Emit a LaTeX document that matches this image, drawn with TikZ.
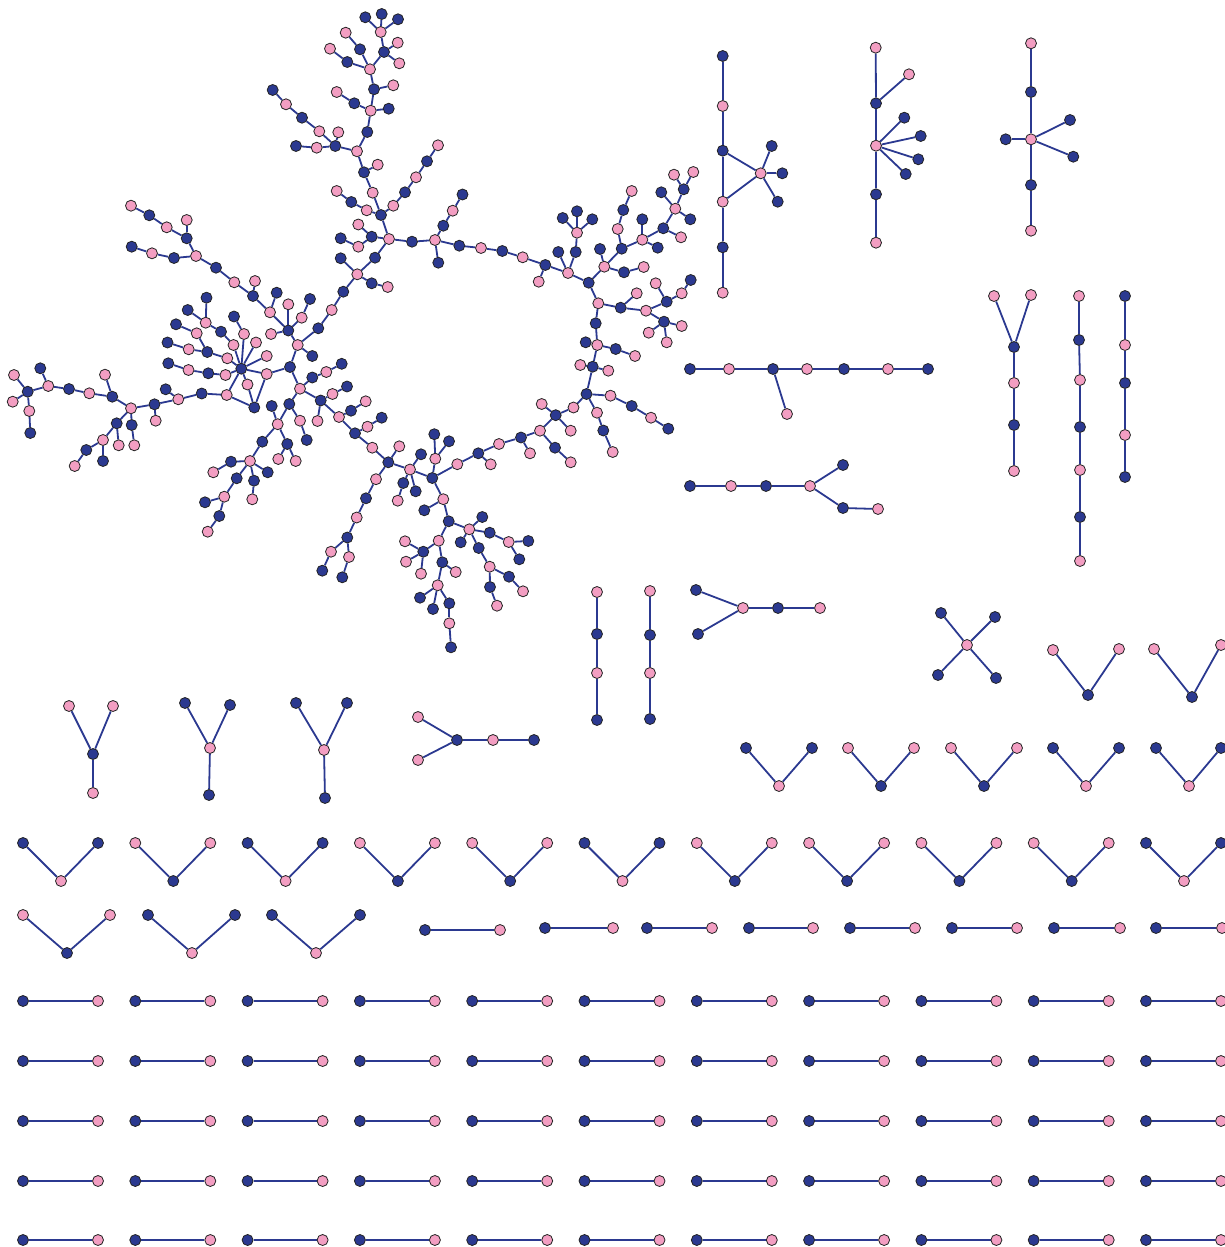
\documentclass[tikz,border=0pt]{standalone}
\usepackage{tikz}
\definecolor{navy}{RGB}{43,57,144}
\definecolor{pinkc}{RGB}{243,158,194}
\definecolor{outl}{RGB}{35,35,35}
\pgfdeclarelayer{bg}
\pgfsetlayers{bg,main}
\tikzset{
  nd/.style={circle, draw=outl, line width=0.8pt, minimum size=11pt, inner sep=0pt},
  dk/.style={nd, fill=navy},
  pk/.style={nd, fill=pinkc},
  edge/.style={draw=navy, line width=1.8pt}
}
\begin{document}
\begin{tikzpicture}[x=1pt,y=-1pt]
\useasboundingbox (0,0) rectangle (1225,1247);
% ---------------- big component: dark nodes
\foreach \n/\x/\y in {t1/365.3/17.3, t2/381.7/14, t3/398/19.3, t6/360/49.3, t7/384/52, t11/347.3/62, t13/374/89.3, t17/354.3/103.3, t18/388.7/108.7, t19/367.3/132, t21/272.7/90, t23/302/117.7, t25/335.3/146, t27/296/146, t29/364/172.3, t32/381/215, t34/351.3/202, t37/405/192.3, t39/427/161.3,
c2/371.7/236.7, c4/340.7/238.3, c6/375/257.7, c8/340.7/258.3, c9/371.7/283.3, c11/343.3/291.7, c13/318.3/328.3, c14/412/241.7, c16/443.3/225.7, c18/462.5/194.5, c19/438.3/262.7, c20/459.3/245.7, c22/502.3/251, c24/545.3/265, c27/558.3/252, c28/575.7/252, c30/562.7/218, c31/577/211.3, c32/592.3/219.3, c33/588.7/282.7,
r2/600/249, r3/624/272.3, r5/621.7/248.7, r7/623.3/210, r10/642.3/219.3, r11/657.7/247.7, r12/663.3/228.3, r15/661.3/192.3, r16/690.3/219.3, r17/683.7/189.3, r21/620.7/307.7, r24/666.7/301.7, r26/690.7/280, r28/664/321.7, r32/595.7/323.3, r34/585.7/342.3, r35/615.7/349, r37/592.7/366.7, r40/586.5/394, r42/631.7/406, r44/668.3/428.7, r46/603.3/430.5, r49/555.7/415.2, r53/555/447.7, r55/521/437.5,
b1/478.3/453.3, b4/432.3/478, b6/434.3/434.2, b7/449/441.3, b9/424.3/510.3, b10/448.7/521.3, b12/482.3/517, b13/489.7/532.7, b15/528.3/541, b16/519.3/559.3, b17/460.7/542.3, b18/478.7/548, b20/509/576.7, b22/490/587, b25/423.3/551.7, b29/442.3/562.3, b32/420/597.7, b33/433/609, b34/449.3/603.3, b36/451/647.3, b38/421/454.3, b39/403.3/483, b41/415.7/491.3, b42/388.3/462.3, b45/366/498.3, b47/347.3/537.5, b49/322.3/570.7, b51/342.3/577.3, b53/355/433.3, b55/381.7/417.7, b57/351/410.7, b59/320.7/400.5,
m3/347/386.5, m5/289.3/404, m8/306.7/440, m9/271.7/406, m10/312.3/377.5, m12/341.7/363.8, m13/290/367, m16/312.3/356, m17/288.3/330.5, m21/310/299, m23/276.7/292.7, m24/253/296,
h0/241.3/368.7, h2/234/316.5, h8/208.3/373.3, h10/168.3/363.3, h12/207.3/352, h13/254.3/407.5, h14/201.7/393.5, h16/167.5/342.5, h18/176/324.3, h20/221/331.7, h22/206.5/297.7, h23/187.7/310, h25/165.7/389.3,
L1/154.5/404.3, L4/131.7/425, L6/116.7/423.3, L9/103/461, L10/86.3/450, L12/112.3/396.7, L15/69/389, L17/40.3/368.3, L18/27.7/391.7, L22/30.3/433,
U1/216/267.7, U3/186.7/238.3, U6/149.3/215.3, U8/174/258, U10/131.7/246.7,
g1/262.3/441.7, g3/287.3/444, g6/231/461.7, g8/267.7/472.3, g9/254/480.7, g11/236.7/478.3, g13/205/502.3, g14/219.3/516}
  \node[dk] (\n) at (\x,\y) {};
% ---------------- big component: pink nodes
\foreach \n/\x/\y in {t4/380.7/32, t5/345.7/32.7, t8/397.7/42.7, t9/399.3/63.3, t10/330/48.7, t12/370/69.3, t14/393.3/85.3, t15/370.7/110.7, t16/336.7/92, t20/357/151.3, t22/286/104.3, t24/319.3/131.3, t26/338.3/132.3, t28/316.7/147.7, t30/377.7/164.7, t31/372.7/192.7, t33/336.7/191, t35/366.7/210.3, t36/393.3/205.7, t38/416/177.3, t40/438/145.3,
c1/389/239, c3/358.3/224.5, c5/358.3/246.7, c7/357.3/274.3, c10/387.7/287, c12/331.7/310, c15/435/240, c17/452.7/210.7, c21/481/248, c23/522.7/257.3, c25/538.7/281.7, c26/568/273, c29/577/232.7,
r1/604.3/266.7, r4/643.7/267, r6/617.7/229, r8/631.7/191, r9/642.3/239.7, r13/681/237.3, r14/675.3/208.7, r18/674/174.7, r19/693.3/172, r20/598.3/303.3, r22/636.7/293.3, r23/646/310.7, r25/681.7/293.3, r27/655.7/283.3, r29/681.7/326, r30/648.7/332.7, r31/666.7/342.3, r33/597.3/345, r36/635/356, r38/580.3/365, r39/608.3/370.7, r41/610.5/395.7, r43/651/417.7, r45/597/412.7, r47/612.7/452, r48/573.5/407.5, r50/541.7/404, r51/570.7/430.7, r52/540/430.7, r54/570.7/462.3, r56/530/453.3, r57/499/444,
b2/490.7/464.3, b3/457.3/464.2, b5/435.3/458.7, b8/443.3/499.2, b11/469.3/529.3, b14/508.7/542, b19/489.7/566.7, b21/523/591.3, b23/497/605.7, b24/438.7/540.7, b26/405/541.3, b27/406/561.7, b28/421/573.7, b30/455.7/572, b31/437.7/585.3, b35/449.3/623.3, b37/410/469.5, b40/397.7/500.7, b43/399.3/446.3, b44/376/479.2, b46/356.7/517.5, b48/331/551.7, b50/349/557, b52/372.3/447.7, b54/367.5/426.7, b56/339/417, b58/365.7/401.3,
m1/317.5/421, m2/332.5/394, m4/300/388.7, m6/277.7/424.2, m7/300/420.7, m11/326.3/372, m14/266.7/374, m15/297.7/345, m18/270/312.3, m19/288.3/304.3, m20/301.7/317.7, m22/271/334, m25/234.3/282.3, m26/255/281,
h1/244/334, h3/256/342.5, h4/266.7/356, h5/247.5/384.5, h6/226.7/395, h7/225.5/375, h9/188.5/370, h11/227.3/358.3, h15/188.7/349.3, h17/196.7/333.3, h19/233.5/345, h21/205.7/322.7, h24/178.3/399.3,
L2/155.7/420.7, L3/131/408.3, L5/134.3/445.3, L7/118.7/445.3, L8/103/440, L11/74.7/466, L13/105/374.7, L14/89.3/393.3, L16/48.3/386, L19/14/375, L20/12.7/401.7, L21/29.3/411,
U2/196/256, U4/186.7/220, U5/166.7/227.3, U7/131/205.7, U9/152/253.3,
g2/250/461, g4/278.3/459, g5/295.7/461, g7/213.3/472.3, g10/252.3/499.3, g12/224.3/496.7, g15/207.7/531.7}
  \node[pk] (\n) at (\x,\y) {};
% ---------------- small components
\foreach \n/\x/\y in {a1/722.7/56, a3/722.7/150.7, a5/722.7/247.3, a8/771.7/146, a9/782.3/173.3, a10/777.7/201.7,
q2/876/103.3, q5/904.3/117.7, q6/920.7/136, q7/918.3/159.3, q8/905.7/174, q9/876/194.3,
w2/1031/92, w4/1005.7/139.3, w5/1070/120, w6/1073.3/156.7, w8/1031/185,
y3/1014/347, y5/1014/425, z2/1079/340, z4/1080/427, z6/1080/517, v1/1125/296, v3/1125/383, v5/1125/477,
k1/690/369, k3/773/369, k5/844/369, k7/928/369, j1/690/486, j3/766/486, j5/843/465, j6/843/508,
i1/696/590, i2/698/634, i4/778/608, f2/597/634, f4/597/720, e2/650/635, e4/650/719,
x1/941/613, x2/995/617, x3/938/675, x4/996/678, o3/1088/695, o6/1192/697,
ya3/93/754, yb1/185/703, yb2/230/705, yb4/209/795, yc1/296/703, yc2/347/703, yc4/325/798, sa3/457/740, sa5/534/740}
  \node[dk] (\n) at (\x,\y) {};
\foreach \n/\x/\y in {a2/722.7/106, a4/722.7/201.7, a6/722.7/292.7, a7/760.7/173.3,
q1/875.7/47.7, q3/909/74.3, q4/876/145.7, q10/876/242.7,
w1/1031/43.3, w3/1031/139.3, w7/1031/230.7,
y1/994/296, y2/1031/295, y4/1014/383, y6/1014/471, z1/1079/296, z3/1080/380, z5/1080/470, z7/1080/561, v2/1125/345, v4/1125/435,
k2/729/369, k4/807/369, k6/888/369, k8/787/414, j2/731/486, j4/810/486, j7/878/509,
i3/743/608, i5/820/608, f1/597/592, f3/597/673, e1/650/591, e3/650/673,
x0/967/645, o1/1053/650, o2/1119/649, o4/1154/649, o5/1221/645,
ya1/69/706, ya2/113/706, ya4/93/793, yb3/210/748, yc3/324/750, sa1/418/717, sa2/418/760, sa4/493/740}
  \node[pk] (\n) at (\x,\y) {};
\begin{pgfonlayer}{bg}
\foreach \a/\b in {t1/t4, t2/t4, t3/t4, t4/t7, t7/t8, t7/t9, t7/t12, t5/t6, t6/t12, t10/t11, t11/t12, t12/t13, t13/t14, t13/t15, t16/t17, t17/t15, t15/t18, t15/t19, t19/t20, t21/t22, t22/t23, t23/t24, t24/t25, t26/t25, t27/t28, t28/t25, t25/t20, t20/t29, t29/t30, t29/t31, t31/t32, t33/t34, t34/t35, t35/t32, t32/t36, t36/t37, t37/t38, t38/t39, t39/t40, t32/c1,
c1/c2, c2/c3, c4/c5, c5/c2, c1/c6, c6/c7, c8/c7, c7/c9, c9/c10, c7/c11, c11/c12, c12/c13, c1/c14, c14/c15, c15/c16, c16/c17, c17/c18, c15/c19, c15/c20, c20/c21, c21/c22, c22/c23, c23/c24, c24/c25, c24/c26, c26/c27, c26/c28, c28/c29, c29/c30, c29/c31, c29/c32, c26/c33,
c33/r1, r1/r2, r1/r3, r3/r4, r1/r5, r5/r6, r6/r7, r7/r8, r5/r9, r9/r10, r9/r11, r9/r12, r12/r13, r12/r14, r14/r15, r14/r16, r14/r17, r17/r18, r17/r19, c33/r20, r20/r21, r21/r22, r21/r23, r23/r24, r24/r25, r25/r26, r24/r27, r23/r28, r28/r29, r28/r30, r28/r31, r20/r32, r32/r33, r33/r34, r33/r35, r35/r36, r33/r37, r37/r38, r37/r39, r37/r40, r40/r41, r41/r42, r42/r43, r43/r44, r40/r45, r45/r46, r46/r47, r40/r48, r48/r49, r49/r50, r49/r51, r49/r52, r52/r53, r53/r54, r52/r55, r55/r56, r55/r57,
r57/b1, b1/b2, b1/b3, b3/b4, b4/b5, b5/b6, b5/b7, b4/b8, b8/b9, b8/b10, b10/b11, b11/b12, b11/b13, b13/b14, b14/b15, b14/b16, b11/b17, b11/b18, b18/b19, b19/b20, b20/b21, b19/b22, b22/b23, b10/b24, b24/b25, b25/b26, b25/b27, b25/b28, b24/b29, b29/b30, b29/b31, b31/b32, b31/b33, b31/b34, b34/b35, b35/b36, b4/b37, b37/b38, b37/b39, b39/b40, b37/b41, b37/b42, b42/b43, b42/b44, b44/b45, b45/b46, b46/b47, b47/b48, b48/b49, b47/b50, b50/b51, b42/b52, b52/b53, b53/b54, b54/b55, b53/b56, b56/b57, b57/b58, b56/b59,
b59/m1, b59/m2, m2/m3, b59/m4, m4/m5, m5/m6, m5/m7, m7/m8, m6/m9, m4/m10, m10/m11, m11/m12, m4/m13, m13/m14, m13/m15, m15/m16, m15/c13, m15/m17, m17/m18, m17/m19, m17/m20, m20/m21, m17/m22, m18/m23, m18/m24, m24/m25, m24/m26, m25/U1,
U1/U2, U2/U3, U3/U4, U3/U5, U5/U6, U6/U7, U2/U8, U8/U9, U9/U10,
h0/h1, h1/h2, h0/h3, h0/h4, h0/m14, m14/h13, h0/h5, h5/h13, h0/h6, h6/h13, h6/h14, h0/h7, h7/h8, h8/h9, h9/h10, h0/h11, h11/h12, h12/h15, h15/h16, h12/h17, h17/h18, h0/h19, h19/h20, h20/h21, h21/h22, h21/h23, h14/h24, h24/h25, h24/L1,
L1/L2, L1/L3, L3/L4, L4/L5, L3/L6, L6/L7, L6/L8, L8/L9, L8/L10, L10/L11, L3/L12, L12/L13, L12/L14, L14/L15, L15/L16, L16/L17, L16/L18, L18/L19, L18/L20, L18/L21, L21/L22,
m6/g1, g1/g2, m6/g3, g3/g4, g3/g5, g2/g6, g6/g7, g2/g8, g2/g9, g9/g10, g2/g11, g11/g12, g12/g13, g12/g14, g14/g15,
a1/a2, a2/a3, a3/a4, a4/a5, a5/a6, a3/a7, a4/a7, a7/a8, a7/a9, a7/a10,
q1/q2, q2/q3, q2/q4, q4/q5, q4/q6, q4/q7, q4/q8, q4/q9, q9/q10,
w1/w2, w2/w3, w3/w4, w3/w5, w3/w6, w3/w8, w8/w7,
y1/y3, y2/y3, y3/y4, y4/y5, y5/y6, z1/z2, z2/z3, z3/z4, z4/z5, z5/z6, z6/z7, v1/v2, v2/v3, v3/v4, v4/v5,
k1/k2, k2/k3, k3/k4, k4/k5, k5/k6, k6/k7, k3/k8, j1/j2, j2/j3, j3/j4, j4/j5, j4/j6, j6/j7,
i1/i3, i2/i3, i3/i4, i4/i5, f1/f2, f2/f3, f3/f4, e1/e2, e2/e3, e3/e4,
x1/x0, x2/x0, x3/x0, x4/x0, o1/o3, o2/o3, o4/o6, o5/o6,
ya1/ya3, ya2/ya3, ya3/ya4, yb1/yb3, yb2/yb3, yb3/yb4, yc1/yc3, yc2/yc3, yc3/yc4, sa1/sa3, sa2/sa3, sa3/sa4, sa4/sa5}
  \draw[edge] (\a) -- (\b);
\end{pgfonlayer}
% ---------------- V shapes, row 748
\foreach \i/\xl/\xr/\xb/\cA/\cB in {1/746/812/779/dk/pk, 2/848/914/881/pk/dk, 3/951/1017/984/pk/dk, 4/1053/1119/1086/dk/pk, 5/1156/1221/1189/dk/pk}{
  \node[\cA] (va\i) at (\xl,748) {};
  \node[\cA] (vb\i) at (\xr,748) {};
  \node[\cB] (vc\i) at (\xb,786) {};
  \begin{pgfonlayer}{bg}\draw[edge] (va\i) -- (vc\i) -- (vb\i);\end{pgfonlayer}
}
% ---------------- V shapes, row 843
\foreach \k/\cA/\cB in {0/dk/pk, 1/pk/dk, 2/dk/pk, 3/pk/dk, 4/pk/dk, 5/dk/pk, 6/pk/dk, 7/pk/dk, 8/pk/dk, 9/pk/dk, 10/dk/pk}{
  \node[\cA] (wa\k) at ({23+112.3*\k},843) {};
  \node[\cA] (wb\k) at ({98+112.3*\k},843) {};
  \node[\cB] (wc\k) at ({61+112.3*\k},881) {};
  \begin{pgfonlayer}{bg}\draw[edge] (wa\k) -- (wc\k) -- (wb\k);\end{pgfonlayer}
}
% ---------------- V shapes, row 915
\foreach \i/\xl/\xr/\xb/\cA/\cB in {1/23/110/67/pk/dk, 2/148/235/192/dk/pk, 3/272/360/316/dk/pk}{
  \node[\cA] (ua\i) at (\xl,915) {};
  \node[\cA] (ub\i) at (\xr,915) {};
  \node[\cB] (uc\i) at (\xb,953) {};
  \begin{pgfonlayer}{bg}\draw[edge] (ua\i) -- (uc\i) -- (ub\i);\end{pgfonlayer}
}
% ---------------- single edges, row 928
\foreach \i/\xl/\xr/\yy in {1/425/500/930, 2/545/613/928, 3/647/712/928, 4/749/813/928, 5/850/915/928, 6/952/1017/928, 7/1054/1120/928, 8/1156/1222/928}{
  \node[dk] (sd\i) at (\xl,\yy) {};
  \node[pk] (sp\i) at (\xr,\yy) {};
  \begin{pgfonlayer}{bg}\draw[edge] (sd\i) -- (sp\i);\end{pgfonlayer}
}
% ---------------- rows of pairs
\foreach \r/\yy in {1/1001, 2/1061, 3/1121, 4/1181, 5/1240}{
  \foreach \k in {0,...,10}{
    \node[dk] (pd\r-\k) at ({23+112.3*\k},\yy) {};
    \node[pk] (pp\r-\k) at ({98+112.3*\k},\yy) {};
    \begin{pgfonlayer}{bg}\draw[edge] (pd\r-\k) -- (pp\r-\k);\end{pgfonlayer}
  }
}
\end{tikzpicture}
\end{document}
